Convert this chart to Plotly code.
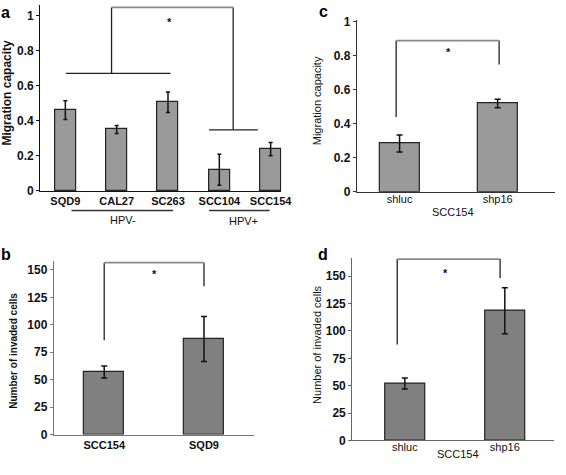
import plotly.graph_objects as go

# ---- data ----
a_cats = ["SQD9", "CAL27", "SC263", "SCC104", "SCC154"]
a_vals = [0.46, 0.35, 0.505, 0.12, 0.238]
a_err = [0.053, 0.023, 0.058, 0.088, 0.038]
a_ticks = [0, 0.2, 0.4, 0.6, 0.8, 1]
a_ticktext = ["0", "0.2", "0.4", "0.6", "0.8", "1"]

b_cats = ["SCC154", "SQD9"]
b_vals = [57, 87]
b_err = [5.5, 20.5]
bd_ticks = [0, 25, 50, 75, 100, 125, 150]

c_cats = ["shluc", "shp16"]
c_vals = [0.285, 0.52]
c_err = [0.05, 0.025]

d_cats = ["shluc", "shp16"]
d_vals = [52, 118.5]
d_err = [5, 21]

W, H = 566, 475
FONT = "Liberation Sans, Arial, sans-serif"

fig = go.Figure()

def bars(x, y, err, xa, ya, color, width, capw):
    fig.add_trace(go.Bar(
        x=x, y=y, xaxis=xa, yaxis=ya, width=width,
        marker=dict(color=color, line=dict(color="#222222", width=1.2)),
        error_y=dict(type="data", array=err, color="#111111", thickness=1.5, width=capw),
        showlegend=False,
    ))

bars(a_cats, a_vals, a_err, "x", "y", "#9a9a9a", 0.41, 2)
bars(b_cats, b_vals, b_err, "x2", "y2", "#808080", 0.40, 3)
bars(c_cats, c_vals, c_err, "x3", "y3", "#9a9a9a", 0.41, 3)
bars(d_cats, d_vals, d_err, "x4", "y4", "#808080", 0.40, 3)

def px_x(p):
    return p / W

def px_y(p):
    return 1 - p / H

BOLDF = dict(family=FONT, size=11, color="#111", weight="bold")
YTF = dict(family=FONT, size=12, color="#111", weight="bold")
REGF = dict(family=FONT, size=11, color="#111")

common_x = dict(showgrid=False, zeroline=False, showline=True, ticks="", fixedrange=True)
common_y = dict(showgrid=False, zeroline=False, showline=True, ticks="outside", ticklen=3)

fig.update_layout(
    width=W, height=H, margin=dict(l=0, r=0, t=0, b=0),
    paper_bgcolor="white", plot_bgcolor="white", bargap=0,
    xaxis=dict(**common_x, domain=[px_x(41), px_x(287)], range=[-0.49, 4.21], anchor="y",
               linecolor="#111", linewidth=1.3, tickfont=BOLDF),
    yaxis=dict(**common_y, domain=[px_y(190.7), 1.0], range=[0, 1.059], anchor="x",
               tickvals=a_ticks, ticktext=a_ticktext, linecolor="#111", linewidth=1.3, tickcolor="#111",
               tickfont=YTF),
    xaxis2=dict(**common_x, domain=[px_x(55), px_x(259)], range=[-0.504, 1.501], anchor="y2",
                linecolor="#777", linewidth=1.3, tickfont=BOLDF),
    yaxis2=dict(**common_y, domain=[px_y(440.7), px_y(262.7)], range=[0, 158], anchor="x2",
                tickvals=bd_ticks, linecolor="#777", linewidth=1.3, tickcolor="#777",
                tickfont=YTF),
    xaxis3=dict(**common_x, domain=[px_x(364), 1.0], range=[-0.435, 1.585], anchor="y3",
                linecolor="#333", linewidth=1.3, tickfont=REGF, ticklabelstandoff=-3),
    yaxis3=dict(**common_y, domain=[px_y(191.7), px_y(15.6)], range=[0, 1.01], anchor="x3",
                tickvals=a_ticks, ticktext=a_ticktext, linecolor="#333", linewidth=1.3, tickcolor="#333",
                tickfont=YTF),
    xaxis4=dict(**common_x, domain=[px_x(359.3), px_x(565)], range=[-0.525, 1.492], anchor="y4",
                linecolor="#666", linewidth=1.3, tickfont=REGF, ticklabelstandoff=-4),
    yaxis4=dict(**common_y, domain=[px_y(446.7), px_y(259.2)], range=[0, 167], anchor="x4",
                tickvals=bd_ticks, linecolor="#666", linewidth=1.3, tickcolor="#666",
                tickfont=YTF),
)

def line(xr, yr, x0, y0, x1, y1, color="#222", w=1.3):
    fig.add_shape(type="line", xref=xr, yref=yr, x0=x0, y0=y0, x1=x1, y1=y1,
                  line=dict(color=color, width=w))

def bracket(xr, yr, xl, yl, xrt, yrt, ytop, star_x, star_y, top_color="#888"):
    line(xr, yr, xl, yl, xl, ytop)
    line(xr, yr, xrt, yrt, xrt, ytop)
    line(xr, yr, xl, ytop, xrt, ytop, color=top_color, w=1.8)
    fig.add_annotation(x=star_x, y=star_y, xref=xr, yref=yr, text="*", showarrow=False,
                       xanchor="center", yanchor="middle",
                       font=dict(family=FONT, size=11, color="#111", weight="bold"))

# panel a brackets
line("x", "y", 0.01, 0.669, 2.05, 0.669)
line("x", "y", 2.8, 0.348, 3.75, 0.348)
bracket("x", "y", 0.9, 0.669, 3.27, 0.348, 1.045, 2.03, 0.965)
# panel b
bracket("x2", "y2", 0.0, 85.8, 1.0, 135, 156.5, 0.505, 146)
# panel c
bracket("x3", "y3", -0.035, 0.44, 1.015, 0.75, 0.89, 0.495, 0.825)
# panel d
bracket("x4", "y4", -0.076, 87.6, 0.953, 148.5, 165.7, 0.41, 153)

# HPV group underlines and labels
line("x", "paper", 0.12, px_y(210.7), 2.10, px_y(210.7), color="#333", w=1.5)
line("x", "paper", 2.80, px_y(210.7), 3.98, px_y(210.7), color="#333", w=1.5)
fig.add_annotation(x=1.12, y=px_y(221), xref="x", yref="paper", text="HPV-", showarrow=False,
                   xanchor="center", yanchor="middle", font=REGF)
fig.add_annotation(x=3.48, y=px_y(222), xref="x", yref="paper", text="HPV+", showarrow=False,
                   xanchor="center", yanchor="middle", font=REGF)

# axis titles
def ytitle(x, y, text, size, bold):
    fig.add_annotation(x=px_x(x), y=px_y(y), xref="paper", yref="paper", text=text,
                       textangle=-90, showarrow=False, xanchor="center", yanchor="middle",
                       font=dict(family=FONT, size=size, color="#111", weight="bold" if bold else "normal"))

ytitle(7, 90, "Migration capacity", 12, True)
ytitle(13, 355, "Number of invaded cells", 10, True)
ytitle(323, 98, "Migration capacity", 11, False)
ytitle(323, 348, "Number of invaded cells", 11, False)

for tx, ty in [(462, 212), (467, 461)]:
    fig.add_annotation(x=px_x(tx), y=px_y(ty), xref="paper", yref="paper", text="SCC154",
                       showarrow=False, xanchor="center", yanchor="middle", font=REGF)

# panel letters
for lx, ly, t in [(6, 8, "a"), (6, 256, "b"), (330, 7, "c"), (329, 256, "d")]:
    fig.add_annotation(x=px_x(lx), y=px_y(ly), xref="paper", yref="paper", text=t,
                       showarrow=False, xanchor="center", yanchor="middle",
                       font=dict(family=FONT, size=16, color="#000", weight="bold"))

fig.write_html("out.html", config={"displayModeBar": False},
               post_script="document.body.style.margin='0';")
